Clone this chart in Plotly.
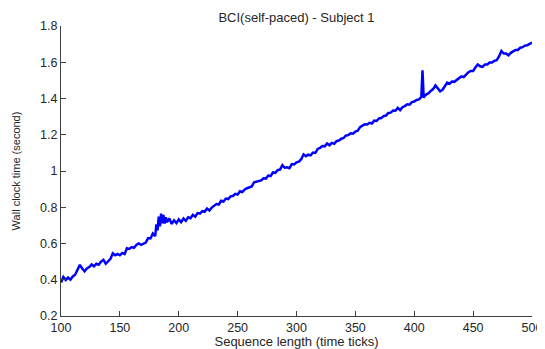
import plotly.graph_objects as go

# Sequence length (time ticks) and wall clock time (second)
ticks = [
    100, 102, 104, 106, 108, 110, 112, 114, 116, 118,
    120, 122, 124, 126, 128, 130, 132, 134, 136, 138,
    140, 142, 144, 146, 148, 150, 152, 154, 156, 158,
    160, 162, 164, 166, 168, 170, 172, 174, 176, 178,
    180, 181, 182, 183, 184, 185, 186, 187, 188, 189,
    190, 192, 194, 196, 198, 200, 202, 204, 206, 208,
    210, 212, 214, 216, 218, 220, 222, 224, 226, 228,
    230, 232, 234, 236, 238, 240, 242, 244, 246, 248,
    250, 252, 254, 256, 258, 260, 262, 264, 266, 268,
    270, 272, 274, 276, 278, 280, 282, 284, 286, 288,
    290, 292, 294, 296, 298, 300, 302, 304, 306, 308,
    310, 312, 314, 316, 318, 320, 322, 324, 326, 328,
    330, 332, 334, 336, 338, 340, 342, 344, 346, 348,
    350, 352, 354, 356, 358, 360, 362, 364, 366, 368,
    370, 372, 374, 376, 378, 380, 382, 384, 386, 388,
    390, 392, 394, 396, 398, 400, 402, 404, 406, 407,
    408, 410, 412, 414, 416, 418, 420, 422, 424, 426,
    428, 430, 432, 434, 436, 438, 440, 442, 444, 446,
    448, 450, 452, 454, 456, 458, 460, 462, 464, 466,
    468, 470, 472, 474, 476, 478, 480, 482, 484, 486,
    488, 490, 492, 494, 496, 498, 500,
]
wall_time = [
    0.385, 0.415, 0.398, 0.412, 0.400, 0.418, 0.428, 0.452, 0.482, 0.462,
    0.447, 0.462, 0.470, 0.484, 0.474, 0.488, 0.483, 0.500, 0.510, 0.488,
    0.500, 0.515, 0.546, 0.535, 0.542, 0.535, 0.548, 0.542, 0.574, 0.570,
    0.580, 0.576, 0.592, 0.600, 0.593, 0.600, 0.605, 0.630, 0.628, 0.655,
    0.640, 0.705, 0.672, 0.748, 0.695, 0.765, 0.712, 0.758, 0.710, 0.745,
    0.718, 0.738, 0.708, 0.728, 0.712, 0.733, 0.718, 0.738, 0.725, 0.745,
    0.740, 0.758, 0.748, 0.768, 0.765, 0.778, 0.775, 0.793, 0.782, 0.798,
    0.808, 0.818, 0.815, 0.836, 0.832, 0.848, 0.845, 0.860, 0.862, 0.874,
    0.870, 0.888, 0.884, 0.898, 0.905, 0.912, 0.915, 0.938, 0.942, 0.945,
    0.948, 0.960, 0.958, 0.975, 0.972, 0.992, 0.990, 1.005, 1.008, 1.032,
    1.018, 1.020, 1.015, 1.038, 1.036, 1.048, 1.052, 1.065, 1.092, 1.082,
    1.090, 1.086, 1.102, 1.100, 1.122, 1.128, 1.138, 1.136, 1.152, 1.142,
    1.155, 1.150, 1.165, 1.168, 1.178, 1.182, 1.196, 1.198, 1.208, 1.206,
    1.218, 1.222, 1.242, 1.250, 1.258, 1.257, 1.266, 1.262, 1.278, 1.276,
    1.290, 1.292, 1.303, 1.306, 1.320, 1.322, 1.333, 1.332, 1.348, 1.336,
    1.352, 1.358, 1.368, 1.366, 1.380, 1.383, 1.392, 1.395, 1.408, 1.555,
    1.405, 1.422, 1.428, 1.442, 1.452, 1.472, 1.458, 1.440, 1.448, 1.468,
    1.488, 1.482, 1.494, 1.492, 1.502, 1.508, 1.522, 1.518, 1.532, 1.545,
    1.552, 1.552, 1.572, 1.588, 1.578, 1.575, 1.588, 1.588, 1.598, 1.598,
    1.608, 1.612, 1.632, 1.662, 1.648, 1.648, 1.638, 1.652, 1.660, 1.668,
    1.668, 1.680, 1.683, 1.692, 1.694, 1.702, 1.708,
]

x_tick_vals = [100, 150, 200, 250, 300, 350, 400, 450, 500]
y_tick_vals = [0.2, 0.4, 0.6, 0.8, 1.0, 1.2, 1.4, 1.6, 1.8]

FONT = "Liberation Sans, Arial, sans-serif"
AXIS_COLOR = "#404040"
TEXT_COLOR = "#262626"

# The page body has an 8px margin, so the figure is sized to fit inside it.
FIG_W, FIG_H = 537, 341

fig = go.Figure()
fig.add_trace(go.Scatter(
    x=ticks, y=wall_time, mode="lines",
    line=dict(color="#0000FF", width=2.5),
    showlegend=False, hoverinfo="skip",
))

fig.update_layout(
    width=FIG_W, height=FIG_H,
    margin=dict(l=53, r=13, t=18, b=33, autoexpand=False),
    paper_bgcolor="white", plot_bgcolor="white",
    font=dict(family=FONT, color=TEXT_COLOR, size=12),
    title=dict(
        text="BCI(self-paced) - Subject 1",
        x=0.5, xref="paper", xanchor="center",
        y=1 - 9 / FIG_H, yref="container", yanchor="middle",
        font=dict(size=13, family=FONT, color=TEXT_COLOR),
        automargin=False,
    ),
)
fig.update_xaxes(
    range=[100, 500], tickvals=x_tick_vals, automargin=False,
    showgrid=False, zeroline=False,
    showline=True, linecolor=AXIS_COLOR, linewidth=1,
    ticks="inside", ticklen=5, tickcolor=AXIS_COLOR, tickwidth=1,
    tickfont=dict(size=12.5, family=FONT, color=TEXT_COLOR),
    title=dict(text="Sequence length (time ticks)", standoff=2,
               font=dict(size=13, family=FONT, color=TEXT_COLOR)),
)
fig.update_yaxes(
    range=[0.2, 1.8], tickvals=y_tick_vals, automargin=False,
    showgrid=False, zeroline=False,
    showline=True, linecolor=AXIS_COLOR, linewidth=1,
    ticks="inside", ticklen=5, tickcolor=AXIS_COLOR, tickwidth=1,
    tickfont=dict(size=12.5, family=FONT, color=TEXT_COLOR),
    title=dict(text="Wall clock time (second)", standoff=17,
               font=dict(size=11, family=FONT, color=TEXT_COLOR)),
)

fig.write_html("out.html")
